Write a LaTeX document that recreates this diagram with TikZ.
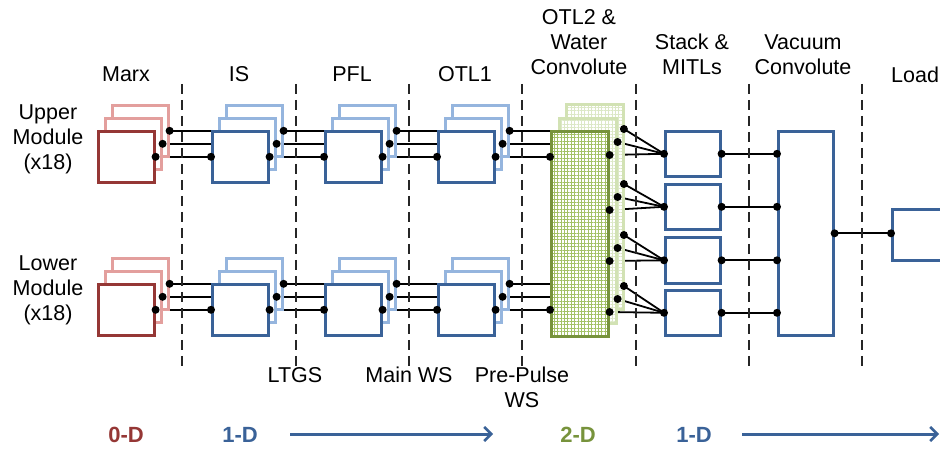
\documentclass[tikz,border=0pt]{standalone}
\usepackage{fontspec}
\setmainfont{Liberation Sans}
\usetikzlibrary{arrows.meta,patterns.meta}
\definecolor{dred}{HTML}{953735}
\definecolor{lred}{HTML}{E39F9D}
\definecolor{dblue}{HTML}{3A6298}
\definecolor{lblue}{HTML}{95B5DE}
\definecolor{dgreen}{HTML}{77933C}
\definecolor{ggrid}{HTML}{A3C165}
\definecolor{lgreen}{HTML}{D2E2B4}
\definecolor{lgrid}{HTML}{DCE8C6}
\definecolor{dashc}{HTML}{262626}
\pgfdeclarelayer{lines}
\pgfdeclarelayer{dots}
\pgfsetlayers{lines,main,dots}
\newcommand\mkstack[5]{%
  \node[wbox,#5,anchor=north west] (#1-3) at ({#2+14},{#3-26}) {};
  \node[wbox,#5,anchor=north west] (#1-2) at ({#2+7},{#3-13}) {};
  \node[wbox,#4,anchor=north west] (#1-1) at (#2,#3) {};
}
\begin{document}
\begin{tikzpicture}[x=1pt,y=-1pt,
  bx/.style={rectangle,inner sep=0pt,draw,line width=2.6pt},
  wbox/.style={bx,fill=white,minimum width=56pt,minimum height=51pt},
  redf/.style={draw=dred},
  redb/.style={draw=lred},
  bluef/.style={draw=dblue},
  blueb/.style={draw=lblue},
  gfront/.style={bx,draw=dgreen,minimum width=57pt,minimum height=205pt,
    preaction={fill=white},
    preaction={pattern={Lines[angle=0,distance=3.4pt,line width=0.9pt]},pattern color=ggrid},
    pattern={Lines[angle=90,distance=3.4pt,line width=0.9pt]},pattern color=ggrid},
  gback/.style={bx,draw=lgreen,minimum width=57pt,minimum height=205pt,
    preaction={fill=white},
    preaction={pattern={Lines[angle=0,distance=3.4pt,line width=0.9pt]},pattern color=lgrid},
    pattern={Lines[angle=90,distance=3.4pt,line width=0.9pt]},pattern color=lgrid},
  sbox/.style={bx,draw=dblue,fill=white,minimum width=55pt},
  conn/.style={line width=1.8pt,black},
  dashline/.style={line width=1.6pt,dashc,dash pattern=on 10pt off 6pt},
  lbl/.style={font=\fontsize{21.5}{25}\selectfont,align=center,inner sep=0pt,anchor=base},
  dlbl/.style={font=\fontsize{22}{25}\selectfont\bfseries,inner sep=0pt,anchor=base},
  barrow/.style={line width=3pt,dblue,-{Straight Barb[length=7pt,width=14pt,line width=2.5pt]}},
  dot/.style={fill=black}]
\useasboundingbox (0,0) rectangle (940,454);

% dashed separators
\foreach \x in {182,296,409,522,636,749,862}
  \draw[dashline] (\x,84) -- (\x,366);

% upper module stacks
\mkstack{marxU}{97}{130}{redf}{redb}
\mkstack{isU}{211}{130}{bluef}{blueb}
\mkstack{pflU}{324}{130}{bluef}{blueb}
\mkstack{otlU}{437}{130}{bluef}{blueb}
% lower module stacks
\mkstack{marxL}{97}{283}{redf}{redb}
\mkstack{isL}{211}{283}{bluef}{blueb}
\mkstack{pflL}{324}{283}{bluef}{blueb}
\mkstack{otlL}{437}{283}{bluef}{blueb}

% OTL2 & water convolute
\node[gback,anchor=north west] (g-3) at (566,104) {};
\node[gback,anchor=north west] (g-2) at (558,117) {};
\node[gfront,anchor=north west] (g-1) at (550,130) {};

% stack & MITLs
\node[sbox,minimum height=45pt,anchor=north west] (s1) at (664,130) {};
\node[sbox,minimum height=45pt,anchor=north west] (s2) at (664,183) {};
\node[sbox,minimum height=46pt,anchor=north west] (s3) at (664,236) {};
\node[sbox,minimum height=45pt,anchor=north west] (s4) at (664,289) {};

% vacuum convolute
\node[sbox,minimum height=204pt,anchor=north west] (v) at (777,130) {};
% load
\node[bx,draw=dblue,fill=white,minimum width=70pt,minimum height=51pt,anchor=north west] (ld) at (891,208) {};

% connectors
\begin{pgfonlayer}{lines}
  \foreach \m in {U,L} {
    \foreach \k in {1,2,3} {
      \draw[conn] (marx\m-\k.east) -- (is\m-\k.west);
      \draw[conn] (is\m-\k.east) -- (pfl\m-\k.west);
      \draw[conn] (pfl\m-\k.east) -- (otl\m-\k.west);
      \draw[conn] (otl\m-\k.east) -- (g-\k.west |- otl\m-\k.east);
    }
  }
  \foreach \o/\s in {25/1,80/2,131/3,182/4} {
    \foreach \k in {1,2,3}
      \draw[conn] ([yshift=-\o pt]g-\k.north east) -- (s\s.west);
    \draw[conn] (s\s.east) -- (v.west |- s\s.east);
  }
  \draw[conn] (v.east) -- (ld.west |- v.east);
\end{pgfonlayer}

% dots
\begin{pgfonlayer}{dots}
  \foreach \n in {marxU,isU,pflU,otlU,marxL,isL,pflL,otlL}
    \foreach \k in {1,2,3}
      \fill[dot] (\n-\k.east) circle (4pt);
  \foreach \n in {isU,pflU,otlU,isL,pflL,otlL}
    \fill[dot] (\n-1.west) circle (4pt);
  \fill[dot] (g-1.west |- otlU-1.east) circle (4pt);
  \fill[dot] (g-1.west |- otlL-1.east) circle (4pt);
  \foreach \o/\s in {25/1,80/2,131/3,182/4} {
    \foreach \k in {1,2,3}
      \fill[dot] ([yshift=-\o pt]g-\k.north east) circle (4pt);
    \fill[dot] (s\s.west) circle (4pt);
    \fill[dot] (s\s.east) circle (4pt);
    \fill[dot] (v.west |- s\s.east) circle (4pt);
  }
  \fill[dot] (v.east) circle (4pt);
  \fill[dot] (ld.west |- v.east) circle (4pt);
\end{pgfonlayer}

% top labels
\node[lbl] (tMarx) at (126,82) {Marx};
\node[lbl] (tIS) at (239,82) {IS};
\node[lbl] (tPFL) at (352,82) {PFL};
\node[lbl] (tOTL1) at (465,82) {OTL1};
\node[lbl] (tOTL2) at (579,75) {OTL2 \&\\Water\\Convolute};
\node[lbl] (tStack) at (692,75) {Stack \&\\MITLs};
\node[lbl] (tVac) at (803,75) {Vacuum\\Convolute};
\node[lbl,anchor=base west] (tLoad) at (891,83) {Load};
% side labels
\node[lbl] (tUp) at (48,170) {Upper\\Module\\(x18)};
\node[lbl] (tLow) at (48,321) {Lower\\Module\\(x18)};
% bottom labels
\node[lbl] (tLTGS) at (295,382) {LTGS};
\node[lbl] (tMWS) at (409,382) {Main WS};
\node[lbl] (tPP) at (522,407) {Pre-Pulse\\WS};

% dimensionality row
\node[dlbl,text=dred] (d0) at (126,442) {0-D};
\node[dlbl,text=dblue] (d1a) at (240,442) {1-D};
\node[dlbl,text=dgreen] (d2) at (578,442) {2-D};
\node[dlbl,text=dblue] (d1b) at (694,442) {1-D};
\coordinate (a1s) at (290,434);
\coordinate (a1e) at (493,434);
\coordinate (a2s) at (742,434);
\coordinate (a2e) at (939,434);
\draw[barrow] (a1s) -- (a1e);
\draw[barrow] (a2s) -- (a2e);
\end{tikzpicture}
\end{document}
